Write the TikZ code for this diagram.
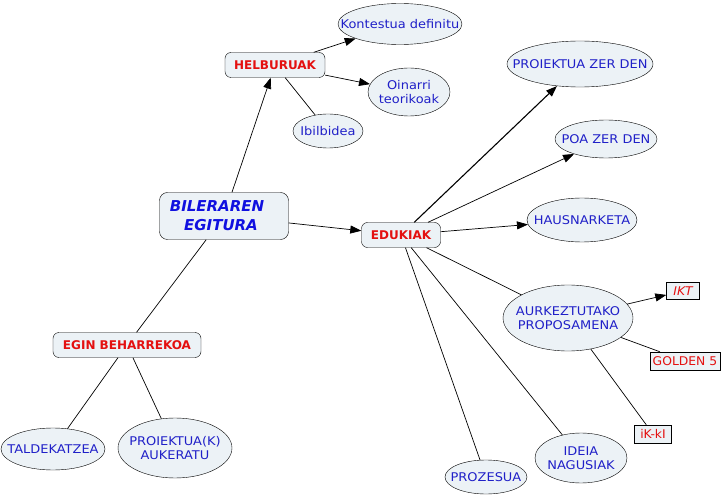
\documentclass[tikz,border=0pt]{standalone}
\usepackage{fontspec}
\setmainfont{DejaVu Sans}[FakeStretch=1.08]
\newfontfamily\boldfam{DejaVu Sans}
\newfontfamily\tagfam{DejaVu Sans}[FakeStretch=1.03]
\usetikzlibrary{shapes.geometric,arrows.meta}
\definecolor{cmblue}{RGB}{32,32,200}
\definecolor{cmdeep}{RGB}{16,16,224}
\definecolor{cmred}{RGB}{228,16,16}
\definecolor{cmfill}{RGB}{236,242,246}
\tikzset{
  every node/.style={font=\fontsize{12}{14.5}\selectfont},
  bubble/.style={ellipse, draw, fill=cmfill, inner xsep=-80pt, inner ysep=-30pt, align=center, text=cmblue},
  concept/.style={rectangle, rounded corners=6pt, draw, fill=cmfill, inner sep=0pt, align=center, text=cmred, font=\boldfam\fontsize{12}{14}\selectfont\bfseries},
  tag/.style={rectangle, draw, fill=cmfill, inner sep=0pt, text=cmred, font=\tagfam\fontsize{12}{14}\selectfont},
  link/.style={line width=0.7pt},
  arr/.style={line width=0.7pt, -{Triangle[length=11pt,width=8pt]}},
}
\begin{document}
\begin{tikzpicture}[x=1pt,y=-1pt]
\useasboundingbox (0,0) rectangle (723,497);
% main
\node[concept, minimum width=129pt, minimum height=47pt, rounded corners=8pt, text=cmdeep,
  font=\boldfam\fontsize{15}{19}\selectfont\bfseries\itshape] (root) at (224,216) {BILERAREN\hspace*{14pt}\\EGITURA\hspace*{6pt}};
\node[concept, minimum width=100pt, minimum height=25pt] (helb) at (275,65) {HELBURUAK};
\node[concept, minimum width=79pt, minimum height=25pt] (eduk) at (401,235) {EDUKIAK};
\node[concept, minimum width=148pt, minimum height=25pt] (egin) at (127,345) {EGIN BEHARREKOA};
% helburuak
\node[bubble, minimum width=124pt, minimum height=41pt] (kont) at (400,24) {Kontestua definitu};
\node[bubble, minimum width=82pt, minimum height=48pt] (oin) at (409,92) {Oinarri\\teorikoak};
\node[bubble, minimum width=70pt, minimum height=34pt] (ibil) at (328,131) {Ibilbidea};
% edukiak
\node[bubble, minimum width=146pt, minimum height=46pt] (pzd) at (580,64) {PROIEKTUA ZER DEN};
\node[bubble, minimum width=102pt, minimum height=38pt] (poa) at (606,139) {POA ZER DEN};
\node[bubble, minimum width=110pt, minimum height=44pt] (haus) at (582,220) {HAUSNARKETA};
\node[bubble, minimum width=130pt, minimum height=66pt] (aurk) at (568,318) {AURKEZTUTAKO\\PROPOSAMENA};
\node[bubble, minimum width=92pt, minimum height=50pt] (idea) at (581,458) {IDEIA\\NAGUSIAK};
\node[bubble, minimum width=82pt, minimum height=34pt] (proz) at (486,477) {PROZESUA};
\node[tag, minimum width=33pt, minimum height=17pt, font=\tagfam\fontsize{12}{14}\selectfont\itshape] (ikt) at (683,291) {IKT};
\node[tag, minimum width=70pt, minimum height=18pt] (gold) at (685,361) {GOLDEN 5};
\node[tag, minimum width=37pt, minimum height=18pt] (ikki) at (653,434) {iK-kI};
% egin
\node[bubble, minimum width=104pt, minimum height=42pt] (tald) at (53,449) {TALDEKATZEA};
\node[bubble, minimum width=114pt, minimum height=60pt] (aukt) at (175,448) {PROIEKTUA(K)\\AUKERATU};
% connectors
\draw[arr] (root) -- (helb);
\draw[arr] (root) -- (eduk);
\draw[link] (root) -- (egin);
\draw[arr] (helb) -- (kont);
\draw[arr] (helb) -- (oin);
\draw[link] (helb) -- (ibil);
\draw[arr, line width=1.1pt] (eduk) -- (pzd);
\draw[arr] (eduk) -- (poa);
\draw[arr] (eduk) -- (haus);
\draw[link] (eduk) -- (aurk);
\draw[link] (eduk) -- (idea);
\draw[link] (eduk) -- (proz);
\draw[arr] (aurk) -- (ikt);
\draw[link] (aurk) -- (gold);
\draw[link] (aurk) -- (ikki);
\draw[link] (egin) -- (tald);
\draw[link] (egin) -- (aukt);
\end{tikzpicture}
\end{document}
